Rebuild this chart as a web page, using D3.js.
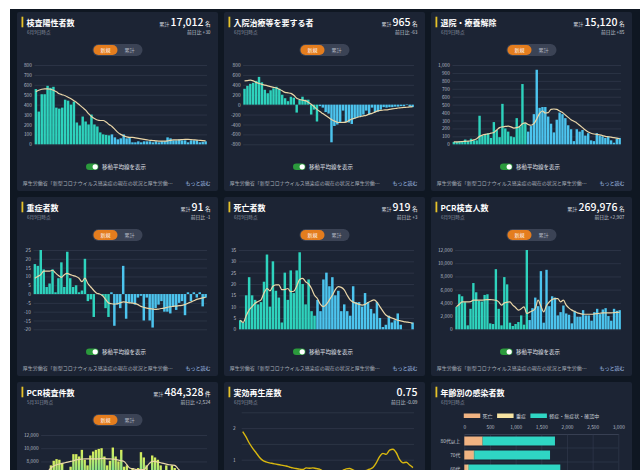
<!DOCTYPE html>
<html>
<head>
<meta charset="utf-8">
<script src="https://cdn.jsdelivr.net/npm/d3@7"></script>
<style>
body { margin: 0; background: #fff; }
svg { display: block; font-family: "Noto Sans CJK JP", "Noto Sans", sans-serif; }
</style>
</head>
<body>
<svg id="chart" width="640" height="470"></svg>
<script>
// daily categories 4/12 .. 6/9, first 26 days drawn teal, the rest blue
var days = d3.timeDay.range(new Date(2020, 3, 12), new Date(2020, 5, 10));
var tealDays = 26;
var dayTicks = d3.range(0, 59, 5);

var positives = [557, 330, 505, 505, 590, 570, 580, 370, 360, 370, 450, 440, 400, 430, 220,
    190, 280, 230, 200, 300, 200, 180, 120, 100, 95, 90,
    100, 70, 50, 60, 100, 60, 70, 20, 20, 30, 20, 30, 30, 30, 20, 30, 20, 30, 30, 70,
    60, 40, 40, 50, 40, 40, 20, 40, 40, 40, 20, 25, 30];
var positivesAvg = [530, 545, 555, 560, 560, 555, 545, 530, 510, 500, 490, 475, 460, 440, 420,
    395, 370, 345, 310, 280, 260, 245, 240, 240, 225, 200, 180, 150, 120, 100, 85, 75,
    70, 70, 65, 60, 55, 50, 45, 40, 38, 35, 33, 33, 33, 35, 40, 45, 45, 45, 48, 50, 50,
    48, 45, 42, 40, 38, 35];

var inpatients = [320, 380, 420, 440, 480, 560, 450, 300, 230, 290, 330, 360, 320, 200, 130,
    70, 160, 140, -160, 100, 160, 100, 100, -200, -100, -340,
    -30, -60, -150, -180, -760, -430, -400, -350, -120, -350, -360, -390, -280, -250,
    -230, -200, -120, -200, -60, -150, -140, -100, -50, -60, -50, -50, -40, -40, -30,
    -30, 10, -40, -50];
var inpatientsAvg = [480, 485, 493, 480, 450, 427, 410, 395, 380, 365, 350, 335, 310, 280, 247,
    238, 227, 190, 130, 105, 90, 80, 50, 10, -40, -95, -140, -180, -220, -260, -300,
    -330, -355, -360, -358, -353, -320, -290, -275, -255, -240, -225, -215, -190, -175,
    -150, -125, -115, -108, -105, -95, -87, -78, -68, -62, -55, -52, -45, -40];

var discharged = [30, 30, 40, 40, 60, 40, 70, 50, 50, 360, 110, 120, 140, 80, 280, 180, 90,
    510, 200, 160, 100, 90, 330, 220, 760, 270,
    160, 230, 380, 940, 460, 470, 470, 350, 260, 150, 310, 400, 380, 330, 240, 190, 40,
    190, 160, 180, 110, 140, 50, 40, 140, 110, 100, 80, 100, 50, 20, 70, 80];
var dischargedAvg = [30, 30, 32, 35, 38, 40, 45, 55, 70, 100, 115, 125, 130, 140, 150, 180,
    210, 220, 225, 230, 220, 205, 210, 225, 260, 270, 250, 240, 260, 320, 390, 420, 395,
    400, 440, 445, 440, 420, 400, 370, 340, 310, 290, 270, 240, 210, 180, 155, 140, 130,
    125, 118, 110, 100, 95, 90, 85, 78, 70];

var severe = [17, 16, 25, 14, 4, 6, 14, 1, 9, 18, 4, 24, 9, 4, 5, 1, 2, 20, -4, -3, -13, 0, 0,
    -1, -8, -13,
    1, -18, -6, -8, 16, -14, -5, -5, -6, -2, -1, -15, -2, -15, -19, -8, -6, -4, -10, -10,
    -11, -7, -9, -5, -4, -12, 1, -4, 1, -2, 1, -7, -2];
var severeAvg = [9, 10, 11, 13, 13, 13, 13.5, 12, 10.5, 9.5, 11, 11.7, 11, 10.5, 10, 9, 7, 9,
    6, 4, 2, 0.5, 0, -1, -3, -5, -5.5, -5.7, -5.5, -5, -4.4, -4.6, -5, -5.1, -5.3, -6, -7,
    -7.5, -8, -8.3, -8.5, -8.7, -8.5, -8.2, -8, -7.5, -7.2, -7, -6.8, -6.6, -6.4, -6, -5.2,
    -4.5, -3.8, -3, -2.6, -2.2, -1.9];

var deaths = [4, 3, 15, 23, 15, 13, 11, 12, 21, 33, 10, 30, 17, 14, 3, 25, 13, 26, 16, 26, 34,
    20, 11, 22, 8, 6,
    13, 8, 22, 25, 19, 23, 15, 17, 8, 11, 8, 6, 19, 12, 12, 10, 16, 12, 9, 7, 12, 5, 1, 2,
    6, 3, 4, 7, 2, 0, 0, 0, 3];
var deathsAvg = [4, 3, 6, 8.5, 10, 11.5, 12.3, 13, 16, 18, 17, 19, 19.6, 19.6, 17.5, 17.5, 18,
    16.6, 16.8, 19, 22, 22.5, 21, 20, 18, 15, 13.5, 11, 10, 11, 13, 15, 17.5, 18.8, 18.5,
    17.4, 15, 13, 12, 11.5, 11, 10.7, 11, 11.8, 12.5, 13, 12, 10, 8, 6.3, 5.5, 5, 4.5, 4,
    3.7, 3.4, 3.2, 3, 2.6];

var pcrPeople = [3400, 5300, 5000, 4100, 600, 3100, 7000, 5600, 4300, 4200, 5200, 5300, 900,
    800, 9100, 3100, 600, 7900, 6800, 1000, 500, 800, 1100, 2100, 700, 12000,
    1400, 3200, 4800, 3500, 8800, 1000, 9000, 3500, 5000, 4800, 2100, 2600, 3600, 2400,
    2200, 900, 2800, 1900, 1900, 2900, 2100, 2100, 1300, 2600, 3100, 2300, 3000, 3200,
    2000, 1300, 3100, 2800, 2900];
var pcrPeopleAvg = [3400, 3800, 4150, 4150, 4150, 4200, 4400, 4400, 4400, 4400, 4450, 4500,
    4500, 4450, 4400, 4150, 3650, 4000, 4100, 4150, 3650, 3300, 2900, 3100, 3400, 2400,
    2600, 2800, 3140, 4400, 3500, 2630, 3600, 4150, 4500, 4650, 4650, 4150, 4400, 3650,
    3200, 2900, 2700, 2480, 2380, 2280, 2280, 2280, 2280, 2330, 2380, 2430, 2480, 2480,
    2480, 2480, 2520, 2550, 2580];

var pcrTests = [4000, 5500, 6000, 7400, 8100, 8350, 8250, 7750, 6500, 5000, 7200, 9100, 9100,
    8750, 9750, 8250, 7400, 8900, 9500, 9750, 9900, 10000, 8750, 7400, 8100, 10100, 8750,
    8000, 9750, 7200, 7400, 6500, 7000, 5500, 7000, 9400, 8600, 7400, 6000, 8900, 8600,
    8250, 7400, 6000, 7400, 6500, 7400, 7000, 6500, 4000, 3000, 5000, 6000, 5000, 4000,
    3000, 5000, 4000, 2500];
var pcrTestsAvg = [5500, 6000, 6500, 7000, 7300, 7500, 7600, 7700, 7800, 7900, 8000, 8100,
    8250, 8300, 8350, 8400, 8400, 8400, 8400, 8400, 8400, 8450, 8450, 8400, 8400, 8350,
    8300, 8200, 8100, 8000, 7500, 7000, 6900, 6800, 6750, 6750, 6750, 7200, 7700, 8000,
    8000, 7900, 7800, 7700, 7600, 7500, 7450, 7400, 7000, 6500, 6000, 5800, 5600, 5400,
    5300, 5200, 5100, 5000, 5000];

// effective reproduction number
var rtValues = [1.89, 1.72, 1.52, 1.36, 1.22, 1.08, 0.98, 0.93, 0.90, 0.88, 0.86, 0.84, 0.82,
    0.80, 0.77, 0.74, 0.72, 0.70, 0.69, 0.74, 0.73, 0.74, 0.72, 0.70, 0.64, 0.60, 0.57,
    0.55, 0.56, 0.60, 0.66, 0.71, 0.72, 0.68, 0.63, 0.60, 0.62, 0.66, 0.70, 0.75, 0.90,
    1.10, 1.20, 1.17, 1.30, 1.33, 1.22, 1.00, 0.90, 0.92, 0.83, 0.75];
var rtTicks = [0, 0.5, 1, 1.5, 2, 2.5];

// infections by age group
var ageGroups = ["80代以上", "70代", "60代"];
var ageDeaths = [350, 175, 55];
var ageSevere = [8, 20, 30];
var ageMild = [1408, 1475, 1785];
var ageKeys = ["死亡", "重症", "軽症・無症状・確認中"];
var ageColors = ["#f0b382", "#f6e3a2", "#2fd6c4"];
var ageTicks = [0, 500, 1000, 1500, 2000, 2500, 3000];

var footerText = "厚生労働省「新型コロナウイルス感染症の現在の状況と厚生労働…";

// layout of the 3x3 dashboard
var colX = [17, 224, 431], rowY = [12, 197, 382];
var panelW = 201, panelH = 179;
var plotTop = 53, plotBottom = 132.3, plotRight = 190;

var svg = d3.select("#chart");
var defs = svg.append("defs");

var grad = defs.append("linearGradient").attr("id", "testGrad")
    .attr("x1", 0).attr("y1", 0).attr("x2", 0).attr("y2", 1);
grad.append("stop").attr("offset", "0%").attr("stop-color", "#d9ee5c");
grad.append("stop").attr("offset", "35%").attr("stop-color", "#7fe08a");
grad.append("stop").attr("offset", "100%").attr("stop-color", "#2fd0b8");

svg.append("rect")
    .attr("x", 10).attr("y", 9)
    .attr("width", 630).attr("height", 461)
    .attr("fill", "#0f1722");

function textWidth(str, size) {
    var t = svg.append("text").attr("font-size", size).text(str);
    var w = t.node().getComputedTextLength();
    t.remove();
    return w;
}

function signed(d) {
    return (d < 0 ? "-" : "") + d3.format(",")(Math.abs(d));
}

function makePanel(p) {
    var g = svg.append("g")
        .attr("transform", "translate(" + colX[p.col] + "," + rowY[p.row] + ")");
    g.append("rect")
        .attr("width", panelW).attr("height", panelH)
        .attr("rx", 2)
        .attr("fill", "#1c2434");
    g.append("rect")
        .attr("x", 4.5).attr("y", 4.7)
        .attr("width", 1.8).attr("height", 10.6)
        .attr("fill", "#e6c229");
    g.append("text")
        .attr("x", 9.5).attr("y", 14)
        .attr("font-size", 8).attr("font-weight", 700)
        .attr("fill", "#ffffff")
        .text(p.title);
    g.append("text")
        .attr("x", 10).attr("y", 22)
        .attr("font-size", 4.6)
        .attr("fill", "#8d94a3")
        .text(p.asOf);
    if (p.total) {
        var t = g.append("text")
            .attr("x", 193.5).attr("y", 14.3)
            .attr("text-anchor", "end")
            .attr("fill", "#ffffff");
        if (p.unit) {
            t.append("tspan").attr("font-size", 5).attr("fill", "#d0d4dc").text("累計 ");
        }
        t.append("tspan").attr("font-size", 10.5).attr("font-weight", 500).text(p.total);
        if (p.unit) {
            t.append("tspan").attr("font-size", 5.5).attr("dx", 1.5).text(p.unit);
        }
        g.append("text")
            .attr("x", 193.5).attr("y", 21.8)
            .attr("text-anchor", "end")
            .attr("font-size", 4.8)
            .attr("fill", "#c4c9d2")
            .text("前日比 " + p.diff);
    }
    return g;
}

function addPill(g) {
    g.append("rect")
        .attr("x", 75.5).attr("y", 32)
        .attr("width", 50).attr("height", 12).attr("rx", 6)
        .attr("fill", "#3b4355");
    g.append("rect")
        .attr("x", 76.5).attr("y", 33)
        .attr("width", 24).attr("height", 10).attr("rx", 5)
        .attr("fill", "#e47d1e");
    g.append("text")
        .attr("x", 88.5).attr("y", 39.8)
        .attr("text-anchor", "middle").attr("font-size", 5)
        .attr("fill", "#ffffff").text("新規");
    g.append("text")
        .attr("x", 112.5).attr("y", 39.8)
        .attr("text-anchor", "middle").attr("font-size", 5)
        .attr("fill", "#aeb4c0").text("累計");
}

function addFooter(g) {
    // moving-average switch
    g.append("rect")
        .attr("x", 69).attr("y", 151.5)
        .attr("width", 12.5).attr("height", 6.6).attr("rx", 3.3)
        .attr("fill", "#2b9a3c");
    g.append("circle")
        .attr("cx", 78.2).attr("cy", 154.8).attr("r", 2.6)
        .attr("fill", "#ffffff");
    g.append("text")
        .attr("x", 85).attr("y", 156.8)
        .attr("font-size", 5.5).attr("fill", "#e0e3ea")
        .text("移動平均線を表示");
    g.append("text")
        .attr("x", 5.7).attr("y", 172.8)
        .attr("font-size", 5).attr("fill", "#aab0bb")
        .text(footerText);
    g.append("text")
        .attr("x", 193.5).attr("y", 172.8)
        .attr("text-anchor", "end")
        .attr("font-size", 5).attr("fill", "#a9c7f2")
        .text("もっと読む");
}

function styleAxis(ax, size, color) {
    ax.attr("font-size", size).attr("font-family", null);
    ax.selectAll("text").attr("fill", color);
}

var clipId = 0;

function barPanel(p) {
    var g = makePanel(p);
    addPill(g);

    var yTicks = d3.range(p.yMin, p.yMax + p.yStep / 2, p.yStep);
    var labelW = d3.max(yTicks, function(d){ return textWidth(signed(d), 4.8); });
    var ml = labelW + 9.5;

    var y = d3.scaleLinear().domain([p.yMin, p.yMax]).range([plotBottom, plotTop]);
    var x = d3.scaleBand().domain(d3.range(days.length))
        .range([ml, plotRight]).paddingInner(0.16).paddingOuter(0.05);

    var yAxis = g.append("g")
        .attr("transform", "translate(" + ml + ",0)")
        .call(d3.axisLeft(y).tickValues(yTicks).tickFormat(signed)
            .tickSize(-(plotRight - ml)).tickPadding(2.6));
    yAxis.select(".domain").remove();
    yAxis.selectAll("line").attr("stroke", "#353e51").attr("stroke-width", 0.6);
    styleAxis(yAxis, 4.8, "#b9bec8");

    g.selectAll(".bar")
        .data(p.bars)
        .enter()
        .append("rect")
        .attr("x", function(d, i){ return x(i); })
        .attr("y", function(d){ return y(Math.max(0, d)); })
        .attr("width", x.bandwidth())
        .attr("height", function(d){ return Math.abs(y(d) - y(0)); })
        .attr("fill", function(d, i){
            if (p.gradient) return "url(#testGrad)";
            return i < tealDays ? "#2ed3bd" : "#4cc4ee";
        });

    var line = d3.line()
        .x(function(d, i){ return x(i) + x.bandwidth() / 2; })
        .y(function(d){ return y(d); })
        .curve(d3.curveMonotoneX);
    g.append("path")
        .datum(p.avg)
        .attr("d", line)
        .attr("fill", "none")
        .attr("stroke", "#ead6a8")
        .attr("stroke-width", 1.2);

    clipId += 1;
    g.append("clipPath").attr("id", "xclip" + clipId)
        .append("rect")
        .attr("x", ml + 2).attr("y", plotBottom)
        .attr("width", 200).attr("height", 12);
    var fmtDay = d3.timeFormat("%-m/%-d");
    var xAxis = g.append("g")
        .attr("transform", "translate(0," + plotBottom + ")")
        .attr("clip-path", "url(#xclip" + clipId + ")")
        .call(d3.axisBottom(x).tickValues(dayTicks)
            .tickFormat(function(i){ return fmtDay(days[i]); })
            .tickSize(0).tickPadding(4));
    xAxis.select(".domain").remove();
    styleAxis(xAxis, 5, "#c3c8d1");

    addFooter(g);
}

var barPanels = [
    {col: 0, row: 0, title: "検査陽性者数", asOf: "6月9日時点", total: "17,012", unit: "名",
     diff: "+30", bars: positives, avg: positivesAvg, yMin: 0, yMax: 800, yStep: 100},
    {col: 1, row: 0, title: "入院治療等を要する者", asOf: "6月9日時点", total: "965", unit: "名",
     diff: "-63", bars: inpatients, avg: inpatientsAvg, yMin: -800, yMax: 800, yStep: 200},
    {col: 2, row: 0, title: "退院・療養解除", asOf: "6月9日時点", total: "15,120", unit: "名",
     diff: "+85", bars: discharged, avg: dischargedAvg, yMin: 0, yMax: 1000, yStep: 100},
    {col: 0, row: 1, title: "重症者数", asOf: "6月9日時点", total: "91", unit: "名",
     diff: "-1", bars: severe, avg: severeAvg, yMin: -20, yMax: 25, yStep: 5},
    {col: 1, row: 1, title: "死亡者数", asOf: "6月9日時点", total: "919", unit: "名",
     diff: "+3", bars: deaths, avg: deathsAvg, yMin: 0, yMax: 35, yStep: 5},
    {col: 2, row: 1, title: "PCR検査人数", asOf: "6月9日時点", total: "269,976", unit: "名",
     diff: "+2,907", bars: pcrPeople, avg: pcrPeopleAvg, yMin: 0, yMax: 12000, yStep: 2000},
    {col: 0, row: 2, title: "PCR検査件数", asOf: "5月31日時点", total: "484,328", unit: "件",
     diff: "+2,524", bars: pcrTests, avg: pcrTestsAvg, yMin: 0, yMax: 12000, yStep: 2000,
     gradient: true}
];
barPanels.forEach(barPanel);

// effective reproduction number line panel
(function(){
    var g = makePanel({col: 1, row: 2, title: "実効再生産数", asOf: "6月9日時点",
        total: "0.75", diff: "-0.09"});
    var ml = 17.7;
    var y = d3.scaleLinear().domain([0, 2.5]).range([109.3, 30.3]);
    var x = d3.scaleLinear().domain([0, rtValues.length - 1]).range([ml + 1, plotRight - 1]);
    var yAxis = g.append("g")
        .attr("transform", "translate(" + ml + ",0)")
        .call(d3.axisLeft(y).tickValues(rtTicks)
            .tickFormat(function(d){ return d % 1 === 0 ? d : ""; })
            .tickSize(-(plotRight - ml)).tickPadding(6));
    yAxis.select(".domain").remove();
    yAxis.selectAll("line").attr("stroke", "#353e51").attr("stroke-width", 0.6);
    styleAxis(yAxis, 4.8, "#b9bec8");
    g.append("path")
        .datum(rtValues)
        .attr("d", d3.line()
            .x(function(d, i){ return x(i); })
            .y(function(d){ return y(d); })
            .curve(d3.curveMonotoneX))
        .attr("fill", "none")
        .attr("stroke", "#d9b80f")
        .attr("stroke-width", 1.4);
})();

// infections by age panel
(function(){
    var g = makePanel({col: 2, row: 2, title: "年齢別の感染者数", asOf: "6月9日時点"});
    var x = d3.scaleLinear().domain([0, 3000]).range([33.3, 187.3]);
    var y = d3.scaleBand().domain(ageGroups)
        .range([52, 52 + 14 * ageGroups.length])
        .paddingInner(0.36).paddingOuter(0.18);

    // legend, centred over the panel
    var widths = ageKeys.map(function(k){ return 16.5 + 2.3 + textWidth(k, 5); });
    var total = d3.sum(widths) + 4.5 * (ageKeys.length - 1);
    var lx = panelW / 2 - total / 2;
    ageKeys.forEach(function(k, i){
        g.append("rect")
            .attr("x", lx).attr("y", 31.5)
            .attr("width", 16.5).attr("height", 4.5)
            .attr("fill", ageColors[i]);
        g.append("text")
            .attr("x", lx + 18.8).attr("y", 35.6)
            .attr("font-size", 5).attr("fill", "#c9ced6")
            .text(k);
        lx += widths[i] + 4.5;
    });

    var xAxis = g.append("g")
        .attr("transform", "translate(0,52)")
        .call(d3.axisTop(x).tickValues(ageTicks).tickFormat(d3.format(","))
            .tickSize(-(panelH - 52)).tickSizeOuter(0).tickPadding(5));
    xAxis.select(".domain").attr("stroke", "#4a5366").attr("stroke-width", 0.6);
    xAxis.selectAll(".tick line").attr("stroke", "#343d50").attr("stroke-width", 0.6);
    styleAxis(xAxis, 4.8, "#b9bec8");

    g.selectAll(".sep")
        .data(ageGroups)
        .enter()
        .append("line")
        .attr("x1", x(0)).attr("x2", x(3000))
        .attr("y1", function(d){ return y(d) - y.step() * y.paddingOuter() + y.step(); })
        .attr("y2", function(d){ return y(d) - y.step() * y.paddingOuter() + y.step(); })
        .attr("stroke", "#343d50").attr("stroke-width", 0.6);

    var rows = ageGroups.map(function(a, i){
        return {age: a, v: [ageDeaths[i], ageSevere[i], ageMild[i]]};
    });
    rows.forEach(function(r){
        var acc = 0;
        r.v.forEach(function(v, k){
            g.append("rect")
                .attr("x", x(acc))
                .attr("y", y(r.age))
                .attr("width", x(acc + v) - x(acc))
                .attr("height", y.bandwidth())
                .attr("fill", ageColors[k]);
            acc += v;
        });
    });

    var yAxis = g.append("g")
        .attr("transform", "translate(" + x(0) + ",0)")
        .call(d3.axisLeft(y).tickSize(0).tickPadding(4));
    yAxis.select(".domain").remove();
    styleAxis(yAxis, 4.8, "#c3c8d1");
})();
</script>
</body>
</html>
